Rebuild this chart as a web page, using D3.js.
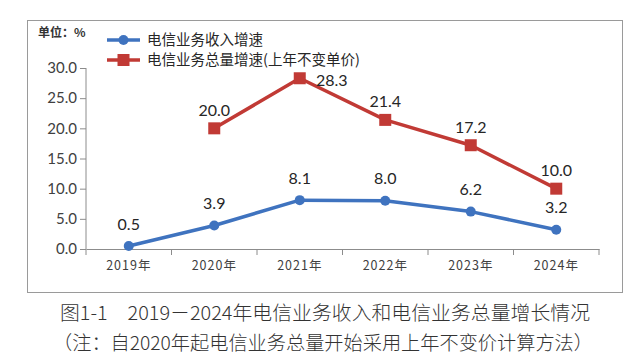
<!DOCTYPE html>
<html><head><meta charset="utf-8">
<script src="https://cdn.jsdelivr.net/npm/d3@7/dist/d3.min.js"></script>
<style>body{margin:0;background:#fff;}svg{display:block;}</style>
</head><body>
<script>
const years = ["2019年","2020年","2021年","2022年","2023年","2024年"];
const revenueGrowth = [0.5,3.9,8.1,8.0,6.2,3.2];
const volumeGrowth = [null,20.0,28.3,21.4,17.2,10.0];
const yTicks = [0,5,10,15,20,25,30];
const legendLabels = ["电信业务收入增速","电信业务总量增速(上年不变单价)"];
const unitLabel = "单位：%";
const caption1 = "图1-1　2019－2024年电信业务收入和电信业务总量增长情况";
const caption2 = "（注：自2020年起电信业务总量开始采用上年不变价计算方法）";

const W=640,H=364;
const svg=d3.select("body").append("svg").attr("width",W).attr("height",H);
const blue="#3f73bf", red="#c13a35", txt="#404040";
const font="'Noto Sans CJK SC','Noto Sans',sans-serif";
const numFont="Lato,'Noto Sans',sans-serif";

svg.append("rect").attr("x",27.5).attr("y",20.5).attr("width",595).attr("height",272)
  .attr("fill","#fff").attr("stroke","#9a9a9a").attr("stroke-width",1);

const x=d3.scaleBand().domain(years).range([86,599]);
const y=d3.scaleLinear().domain([0,30]).range([249,68]);

// y axis
const ya=svg.append("g").attr("transform","translate(86,0)")
  .call(d3.axisLeft(y).tickValues(yTicks).tickFormat(d3.format(".1f")).tickSize(6).tickPadding(3));
ya.select(".domain").attr("stroke","#8c8c8c").attr("d","M0,"+y(30)+"V"+y(0));
ya.selectAll(".tick line").attr("stroke","#8c8c8c");
ya.selectAll("text").attr("font-family",numFont).attr("font-size",15).attr("fill",txt);

// x axis
const xa=svg.append("g").attr("transform","translate(0,249)")
  .call(d3.axisBottom(x).tickSize(0).tickPadding(12));
xa.select(".domain").attr("stroke","#8c8c8c").attr("stroke-width",1.2);
xa.selectAll("text").attr("font-family",font).attr("font-size",12.5).attr("fill",txt).attr("letter-spacing","1px");
// band boundary ticks
svg.append("g").selectAll("line").data(years.concat(["end"])).join("line")
  .attr("x1",(d,i)=>i<years.length?x(d):x.range()[1]).attr("x2",(d,i)=>i<years.length?x(d):x.range()[1])
  .attr("y1",249).attr("y2",255).attr("stroke","#8c8c8c");

const cx=d=>x(d)+x.bandwidth()/2;

// blue line
const blueData=years.map((d,i)=>({k:d,v:revenueGrowth[i]}));
svg.append("path").datum(blueData).attr("fill","none").attr("stroke",blue).attr("stroke-width",3.5)
  .attr("stroke-linejoin","round")
  .attr("d",d3.line().x(d=>cx(d.k)).y(d=>y(d.v)));
svg.append("g").selectAll("circle").data(blueData).join("circle")
  .attr("cx",d=>cx(d.k)).attr("cy",d=>y(d.v)).attr("r",5).attr("fill",blue);

// red line
const redData=years.map((d,i)=>({k:d,v:volumeGrowth[i]})).filter(d=>d.v!=null);
svg.append("path").datum(redData).attr("fill","none").attr("stroke",red).attr("stroke-width",3.5)
  .attr("stroke-linejoin","round")
  .attr("d",d3.line().x(d=>cx(d.k)).y(d=>y(d.v)));
svg.append("g").selectAll("rect").data(redData).join("rect")
  .attr("x",d=>cx(d.k)-6).attr("y",d=>y(d.v)-6).attr("width",12).attr("height",12).attr("fill",red);

// labels
svg.append("g").selectAll("text").data(blueData).join("text")
  .attr("x",d=>cx(d.k)).attr("y",d=>y(d.v)-22).attr("dy","0.35em")
  .attr("text-anchor","middle").attr("font-family",numFont).attr("font-size",16).attr("fill","#262626")
  .text(d=>d.v.toFixed(1));
svg.append("g").selectAll("text").data(redData).join("text")
  .attr("x",(d,i)=>i===1?cx(d.k)+32:cx(d.k))
  .attr("y",(d,i)=>i===1?y(d.v)+2:y(d.v)-18).attr("dy","0.35em")
  .attr("text-anchor","middle").attr("font-family",numFont).attr("font-size",16).attr("fill","#262626")
  .text(d=>d.v.toFixed(1));

// unit
svg.append("text").attr("x",38).attr("y",33).attr("dy","0.35em").attr("font-family",font)
  .attr("font-size",12).attr("font-weight","bold").attr("fill","#333").text(unitLabel);

// legend
const lg=svg.append("g");
[blue,red].forEach((c,i)=>{
  const ly=40+i*20;
  lg.append("line").attr("x1",107).attr("x2",140).attr("y1",ly).attr("y2",ly).attr("stroke",c).attr("stroke-width",3.5);
  if(i===0) lg.append("circle").attr("cx",123.5).attr("cy",ly).attr("r",5).attr("fill",c);
  else lg.append("rect").attr("x",117.5).attr("y",ly-6).attr("width",12).attr("height",12).attr("fill",c);
  lg.append("text").attr("x",147).attr("y",ly).attr("dy","0.35em").attr("font-family",font)
    .attr("font-size",14.5).attr("fill","#262626").text(legendLabels[i]);
});

// captions
svg.append("text").attr("x",325).attr("y",313).attr("dy","0.35em").attr("text-anchor","middle")
  .attr("font-family",font).attr("font-size",19).attr("font-weight",300).attr("fill","#333")
  .attr("textLength",530).attr("lengthAdjust","spacingAndGlyphs").text(caption1);
svg.append("text").attr("x",323).attr("y",343).attr("dy","0.35em").attr("text-anchor","middle")
  .attr("font-family",font).attr("font-size",19).attr("font-weight",300).attr("fill","#333")
  .attr("textLength",540).attr("lengthAdjust","spacingAndGlyphs").text(caption2);
</script>
</body></html>
